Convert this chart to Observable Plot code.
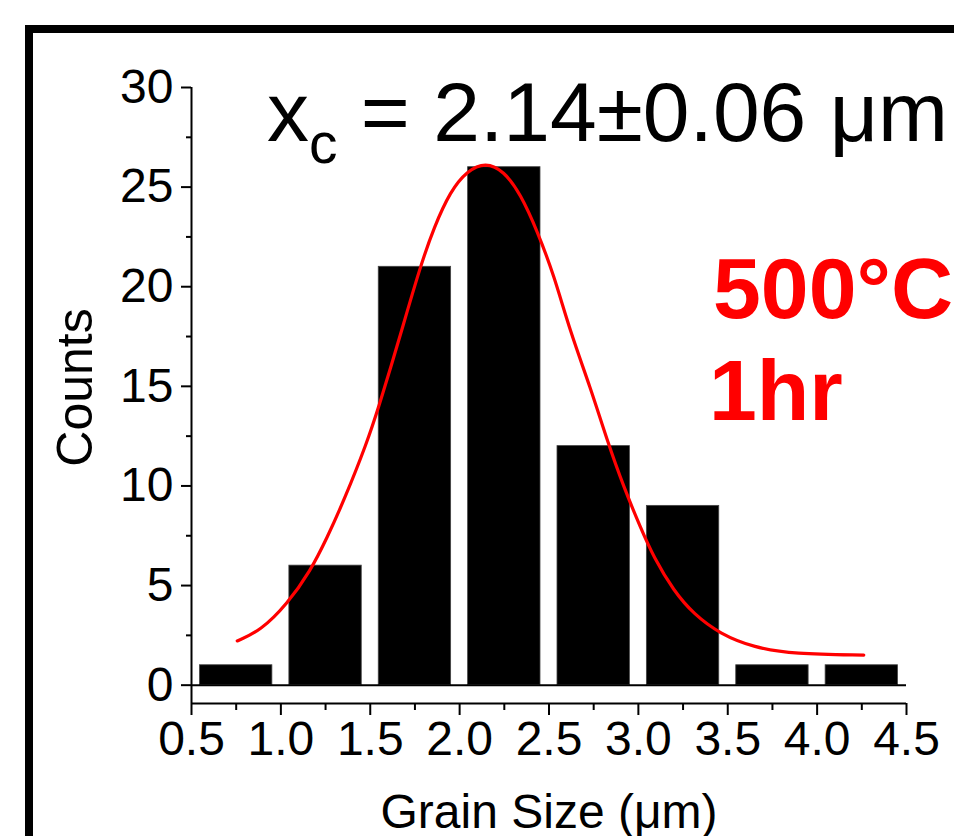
<!DOCTYPE html>
<html>
<head>
<meta charset="utf-8">
<script src="https://cdn.jsdelivr.net/npm/d3@7"></script>
<script src="https://cdn.jsdelivr.net/npm/@observablehq/plot@0.6"></script>
<style>
  html, body { margin: 0; padding: 0; background: #fff; }
  #chart svg { display: block; }
</style>
</head>
<body>
<div id="chart"></div>
<script>
// Histogram bins (grain size, µm) and counts
const binLower = [0.5, 1.0, 1.5, 2.0, 2.5, 3.0, 3.5, 4.0];
const binUpper = [1.0, 1.5, 2.0, 2.5, 3.0, 3.5, 4.0, 4.5];
const counts   = [1, 6, 21, 26, 12, 9, 1, 1];

// Gaussian fit curve
const fitX = [0.756, 0.886, 1.035, 1.166, 1.259, 1.352, 1.483, 1.548, 1.613, 1.669, 1.781, 1.856, 1.949, 2.042, 2.145, 2.247, 2.341, 2.434, 2.527, 2.62, 2.732, 2.826, 2.919, 3.012, 3.086, 3.198, 3.31, 3.459, 3.646, 3.87, 4.261];
const fitY = [2.22, 2.73, 4.07, 5.74, 7.41, 9.25, 12.2, 14.0, 15.9, 17.6, 21.05, 22.97, 24.81, 25.82, 26.25, 25.82, 24.65, 22.8, 20.6, 17.7, 14.94, 12.26, 9.92, 7.91, 6.41, 4.73, 3.56, 2.56, 1.89, 1.56, 1.51];

// Ticks
const xMajor = [0.5, 1.0, 1.5, 2.0, 2.5, 3.0, 3.5, 4.0, 4.5];
const xMinor = [0.75, 1.25, 1.75, 2.25, 2.75, 3.25, 3.75, 4.25];
const yMajor = [0, 5, 10, 15, 20, 25, 30];
const yMinor = [2.5, 7.5, 12.5, 17.5, 22.5, 27.5];

// Labels
const xLabel = "Grain Size (μm)";
const yLabel = "Counts";
const fitLabelMain = "x";
const fitLabelSub = "c";
const fitLabelRest = " = 2.14±0.06 μm";
const condLines = ["500°C", "1hr"];

const bars = counts.map((c, i) => ({lo: binLower[i], hi: binUpper[i], count: c}));
const fit = fitX.map((x, i) => ({x, y: fitY[i]}));

const FONT = "'Liberation Sans', Arial, Helvetica, sans-serif";

const plot = Plot.plot({
  width: 954,
  height: 836,
  marginLeft: 191,
  marginRight: 48,
  marginTop: 87,
  marginBottom: 133,
  style: {fontFamily: FONT, color: "black", background: "white", overflow: "visible"},
  x: {domain: [0.5, 4.5]},
  y: {domain: [-0.92, 30]},
  marks: [
    Plot.rect(bars, {x1: "lo", x2: "hi", y1: 0, y2: "count", insetLeft: 8.5, insetRight: 8.5, fill: "black", stroke: "#444", strokeWidth: 0.8}),
    Plot.ruleY([0], {stroke: "black", strokeWidth: 2}),
    Plot.line(fit, {x: "x", y: "y", stroke: "#ff0000", strokeWidth: 3.2, curve: "basis"}),
    // axis lines
    Plot.ruleX([0.5], {y1: -0.92, y2: 30, stroke: "black", strokeWidth: 2}),
    Plot.ruleY([-0.92], {stroke: "black", strokeWidth: 2}),
    // y axis
    Plot.axisY(yMajor, {tickSize: 10, tickPadding: 8, fontSize: 48, strokeWidth: 2, label: null, tickFormat: d3.format("d")}),
    Plot.axisY(yMinor, {tickSize: 5, text: null, strokeWidth: 2, label: null}),
    // x axis
    Plot.axisX(xMajor, {tickSize: 12, tickPadding: 5, fontSize: 48, strokeWidth: 2, label: null, tickFormat: d3.format(".1f")}),
    Plot.axisX(xMinor, {tickSize: 7, text: null, strokeWidth: 2, label: null}),
    // axis titles
    Plot.text([xLabel], {frameAnchor: "bottom", dy: 124, lineAnchor: "bottom", textAnchor: "middle", fontSize: 48, fill: "black"}),
    Plot.text([yLabel], {frameAnchor: "left", rotate: -90, dx: -116, dy: -8, lineAnchor: "middle", textAnchor: "middle", fontSize: 50, fill: "black"})
  ]
});

document.getElementById("chart").appendChild(plot);

const svg = d3.select(plot);

// fit annotation with subscript
const t = svg.append("text")
  .attr("x", 267).attr("y", 141)
  .attr("text-anchor", "start")
  .attr("font-family", FONT)
  .attr("font-size", 84)
  .attr("fill", "black");
t.append("tspan").text(fitLabelMain);
t.append("tspan").attr("font-size", 57).attr("dy", 22).text(fitLabelSub);
t.append("tspan").attr("dy", -22).text(fitLabelRest);

// condition annotation
svg.append("text").attr("x", 713).attr("y", 318)
  .attr("text-anchor", "start")
  .attr("font-family", FONT).attr("font-weight", "bold").attr("font-size", 86)
  .attr("fill", "#ff0000").text(condLines[0]);
svg.append("text").attr("x", 709).attr("y", 420)
  .attr("text-anchor", "start")
  .attr("font-family", FONT).attr("font-weight", "bold").attr("font-size", 86)
  .attr("fill", "#ff0000").text(condLines[1]);

// thick outer frame
svg.append("rect")
  .attr("x", 29).attr("y", 29)
  .attr("width", 1000).attr("height", 1000)
  .attr("fill", "none").attr("stroke", "black").attr("stroke-width", 8);
</script>
</body>
</html>
